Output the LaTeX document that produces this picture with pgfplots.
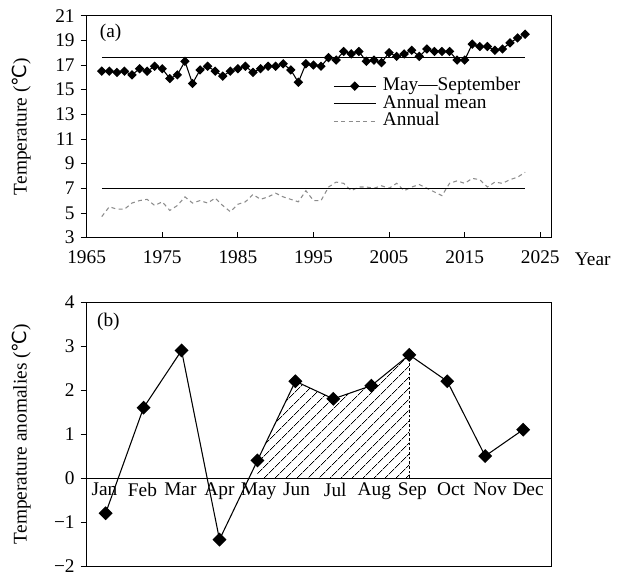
\documentclass[border=0pt]{standalone}
\usepackage{fontspec}
\setmainfont{Liberation Serif}
\newfontfamily\djfont{DejaVu Sans}
\usepackage{pgfplots}
\pgfplotsset{compat=1.18}
\usetikzlibrary{patterns.meta}
\newcommand\degC{{\djfont ℃}}

\pgfplotstableread{
year ms an
1967 16.5 4.7
1968 16.5 5.5
1969 16.4 5.3
1970 16.5 5.3
1971 16.2 5.8
1972 16.7 6.0
1973 16.5 6.1
1974 16.9 5.6
1975 16.7 5.9
1976 15.9 5.2
1977 16.2 5.6
1978 17.3 6.3
1979 15.5 5.8
1980 16.6 6.0
1981 16.9 5.8
1982 16.5 6.2
1983 16.1 5.6
1984 16.5 5.1
1985 16.7 5.7
1986 16.9 5.9
1987 16.4 6.5
1988 16.7 6.1
1989 16.9 6.3
1990 16.9 6.6
1991 17.1 6.3
1992 16.6 6.1
1993 15.6 5.9
1994 17.1 6.8
1995 17.0 6.0
1996 16.9 6.0
1997 17.6 7.1
1998 17.4 7.5
1999 18.1 7.4
2000 17.9 6.8
2001 18.1 7.1
2002 17.3 7.1
2003 17.4 7.0
2004 17.2 7.2
2005 18.0 7.0
2006 17.7 7.4
2007 17.9 6.8
2008 18.2 7.1
2009 17.7 7.3
2010 18.3 7.0
2011 18.1 6.7
2012 18.1 6.4
2013 18.1 7.4
2014 17.4 7.6
2015 17.4 7.4
2016 18.7 7.8
2017 18.5 7.7
2018 18.5 7.1
2019 18.2 7.5
2020 18.3 7.4
2021 18.8 7.7
2022 19.2 7.9
2023 19.5 8.3
}\yeardata

\pgfplotstableread{
m v
1 -0.8
2 1.6
3 2.9
4 -1.4
5 0.4
6 2.2
7 1.8
8 2.1
9 2.8
10 2.2
11 0.5
12 1.1
}\monthdata

\begin{document}
\begin{tikzpicture}[font=\fontsize{14.5}{16}\selectfont]
\useasboundingbox (-65pt,-255pt) rectangle (400.1pt,178.2pt);
\begin{axis}[
 at={(0,0)}, anchor=south west,
 scale only axis, width=348.8pt, height=166.4pt,
 xmin=1965, xmax=2026.5, ymin=3, ymax=21,
 xtick={1965,1975,...,2025}, ytick={3,5,...,21},
 xtick align=inside, ytick align=outside,
 xtick pos=lower, ytick pos=left,
 major tick length=4.5pt,
 axis line style={line width=0.6pt},
 every tick/.style={black, line width=0.6pt},
 /pgf/number format/assume math mode=true,
 /pgf/number format/1000 sep={},
 xticklabel style={yshift=-6pt},
 yticklabel style={xshift=-1pt},
 ylabel={Temperature (\degC)},
 ylabel style={at={(rel axis cs:-0.14,0.5)}, anchor=center},
 xlabel={Year},
 xlabel style={at={(rel axis cs:1.04,-0.1)}, anchor=west},
 legend image code/.code={\draw[mark repeat=2,mark phase=2,#1] plot coordinates {(0cm,0cm) (0.55cm,0cm) (1.1cm,0cm)};},
 legend cell align=left,
 legend style={at={(rel axis cs:0.53,0.72)}, anchor=north west, draw=none, fill=none, inner sep=0pt, row sep=1.2pt, nodes={inner sep=0pt, text height=9.5pt, text depth=2.5pt}, column sep=5pt},
]
\addplot [black, line width=0.8pt, mark=square*, mark size=2.1pt, mark options={rotate=45, solid}] table [x=year, y=ms] {\yeardata};
\addlegendentry{May—September}
\addplot [black, line width=0.9pt] coordinates {(1967,17.6) (2023,17.6)};
\addlegendentry{Annual mean}
\addplot [color={rgb,255:red,140;green,140;blue,140}, line width=0.8pt, dash pattern=on 3pt off 2.5pt] table [x=year, y=an] {\yeardata};
\addlegendentry{Annual}
\addplot [black, line width=0.9pt, forget plot] coordinates {(1967,7.0) (2023,7.0)};
\node [anchor=west, inner sep=0pt] at (rel axis cs:0.028,0.922) {(a)};
\end{axis}

\begin{axis}[
 at={(0,-246.4pt)}, anchor=south west,
 scale only axis, width=348.8pt, height=198pt,
 xmin=0.5, xmax=12.75, ymin=-2, ymax=4,
 xtick={0.97,1.97,2.97,4.0,5.03,6.03,7.05,8.08,9.08,10.1,11.13,12.13},
 xticklabels={Jan,Feb,Mar,Apr,May,Jun,Jul,Aug,Sep,Oct,Nov,Dec},
 xtick style={draw=none},
 xticklabel style={yshift=66pt},
 ytick={-2,-1,0,1,2,3,4},
 yticklabels={−2,−1,0,1,2,3,4},
 ytick align=outside, ytick pos=left,
 major tick length=4.5pt,
 yticklabel style={xshift=-1pt},
 axis line style={line width=0.6pt},
 every tick/.style={black, line width=0.6pt},
 extra y ticks={0}, extra y tick labels={},
 extra y tick style={grid=major, major grid style={black, line width=0.8pt}, tick style={draw=none}},
 ylabel={Temperature anomalies (\degC)},
 ylabel style={at={(rel axis cs:-0.14,0.5)}, anchor=center},
]
\addplot [draw=none, pattern={Lines[angle=45, distance=6.5pt, line width=0.5pt]}] coordinates {(5,0) (5,0.4) (6,2.2) (7,1.8) (8,2.1) (9,2.8) (9,0)} \closedcycle;
\addplot [black, line width=0.7pt, dash pattern=on 2pt off 1.5pt] coordinates {(9,0) (9,2.8)};
\addplot [black, line width=0.8pt, mark=square*, mark size=3.3pt, mark options={rotate=45, solid}] table [x=m, y=v] {\monthdata};
\node [anchor=west, inner sep=0pt] at (rel axis cs:0.022,0.924) {(b)};
\end{axis}
\end{tikzpicture}
\end{document}
